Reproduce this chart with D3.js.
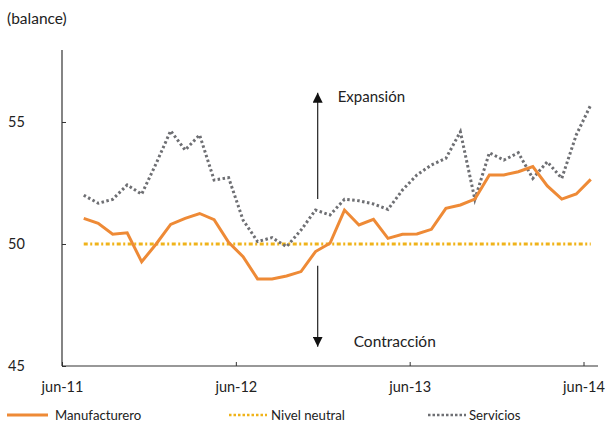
<!DOCTYPE html>
<html><head><meta charset="utf-8">
<script src="https://cdn.jsdelivr.net/npm/d3@7"></script>
<style>
body{margin:0;background:#fff;}
svg text{font-family:Lato,"Open Sans",sans-serif;fill:#222;}
</style></head>
<body><svg id="c" width="609" height="424"></svg>
<script>
// months: jul-11 ... jun-14
const months = ["jul-11","ago-11","sep-11","oct-11","nov-11","dic-11","ene-12","feb-12","mar-12","abr-12","may-12","jun-12",
"jul-12","ago-12","sep-12","oct-12","nov-12","dic-12","ene-13","feb-13","mar-13","abr-13","may-13","jun-13",
"jul-13","ago-13","sep-13","oct-13","nov-13","dic-13","ene-14","feb-14","mar-14","abr-14","may-14","jun-14"];
const manufacturero = [51.05,50.85,50.4,50.46,49.27,50.0,50.8,51.05,51.25,51.0,50.07,49.48,
48.57,48.57,48.69,48.87,49.69,50.03,51.39,50.78,51.01,50.23,50.4,50.41,
50.6,51.46,51.6,51.84,52.83,52.83,52.96,53.17,52.38,51.84,52.05,52.65];
const servicios = [52.0,51.67,51.83,52.42,52.04,53.3,54.64,53.85,54.47,52.62,52.72,50.98,
50.1,50.26,49.89,50.57,51.39,51.19,51.83,51.77,51.64,51.42,52.21,52.83,
53.24,53.51,54.6,51.83,53.74,53.44,53.74,52.69,53.37,52.69,54.47,55.7];
const nivelNeutral = months.map(() => 50);
const xTickLabels = ["jun-11","jun-12","jun-13","jun-14"];
const xTickValues = [0,12,24,36];
const yTicks = [45,50,55];
const seriesNames = ["Manufacturero","Nivel neutral","Servicios"];

const svg = d3.select("#c");
const x = d3.scaleLinear().domain([0,37]).range([62,598]);
const y = d3.scaleLinear().domain([45,57.95]).range([366,50]);
const px = i => x(i+1.5);

const colors = {m:"#EE8A36", n:"#F0B31A", s:"#6E6F73"};

// axes
const yAxis = d3.axisLeft(y).tickValues(yTicks).tickSize(-4).tickPadding(38).tickFormat(d3.format("d"));
const gy = svg.append("g").attr("transform","translate(62,0)").call(yAxis);
gy.select(".domain").remove();
gy.append("line").attr("x1",0).attr("x2",0).attr("y1",50).attr("y2",366).attr("stroke","#333").attr("stroke-width",1.2);
gy.selectAll(".tick line").attr("stroke","#333");
gy.selectAll(".tick text").attr("text-anchor","start").attr("x",-54).attr("font-size",14.5).attr("fill","#222");

const xAxis = d3.axisBottom(x).tickValues(xTickValues).tickSize(-4).tickPadding(16).tickFormat((d,i)=>xTickLabels[i]);
const gx = svg.append("g").attr("transform","translate(0,366)").call(xAxis);
gx.select(".domain").remove();
gx.append("line").attr("x1",62).attr("x2",598).attr("y1",0).attr("y2",0).attr("stroke","#333").attr("stroke-width",1.2);
gx.selectAll(".tick line").attr("stroke","#333");
gx.selectAll(".tick text").attr("font-size",14.5).attr("fill","#222");

svg.append("text").attr("x",7).attr("y",24).attr("font-size",15.5).text("(balance)");

// lines
const line = d3.line().x((d,i)=>px(i)).y(d=>y(d));
svg.append("path").datum(nivelNeutral).attr("d",line).attr("fill","none")
  .attr("stroke",colors.n).attr("stroke-width",3).attr("stroke-dasharray","4,2.5,2,2.5");
svg.append("path").datum(servicios).attr("d",line).attr("fill","none")
  .attr("stroke",colors.s).attr("stroke-width",3).attr("stroke-dasharray","2.5,2.5");
svg.append("path").datum(manufacturero).attr("d",line).attr("fill","none")
  .attr("stroke",colors.m).attr("stroke-width",3).attr("stroke-linejoin","miter");

// annotations
const ax = x(17.65);
const defs = svg.append("defs");
defs.append("marker").attr("id","arr").attr("viewBox","0 0 10 10").attr("refX",10).attr("refY",5)
  .attr("markerWidth",10).attr("markerHeight",10).attr("markerUnits","userSpaceOnUse").attr("orient","auto")
  .append("path").attr("d","M0,0L10,5L0,10Z").attr("fill","#111");
svg.append("line").attr("x1",ax).attr("x2",ax).attr("y1",y(51.84)).attr("y2",y(56.2))
  .attr("stroke","#222").attr("stroke-width",1.2).attr("marker-end","url(#arr)");
svg.append("line").attr("x1",ax).attr("x2",ax).attr("y1",y(49.11)).attr("y2",y(45.79))
  .attr("stroke","#222").attr("stroke-width",1.2).attr("marker-end","url(#arr)");
svg.append("text").attr("x",ax+20).attr("y",y(55.8)).attr("font-size",15).text("Expansión");
svg.append("text").attr("x",ax+36).attr("y",y(45.78)).attr("font-size",15.5).text("Contracción");

// legend
const leg = [
  {name:seriesNames[0], c:colors.m, dash:null, x1:7, x2:48, tx:55},
  {name:seriesNames[1], c:colors.n, dash:"2.5,2", x1:229, x2:267, tx:271},
  {name:seriesNames[2], c:colors.s, dash:"2.5,2", x1:428, x2:466, tx:469}
];
const lg = svg.append("g");
leg.forEach(l=>{
  lg.append("line").attr("x1",l.x1).attr("x2",l.x2).attr("y1",415).attr("y2",415)
    .attr("stroke",l.c).attr("stroke-width",l.dash?2.5:3).attr("stroke-dasharray",l.dash);
  lg.append("text").attr("x",l.tx).attr("y",420).attr("font-size",13.2).text(l.name);
});
</script></body></html>
